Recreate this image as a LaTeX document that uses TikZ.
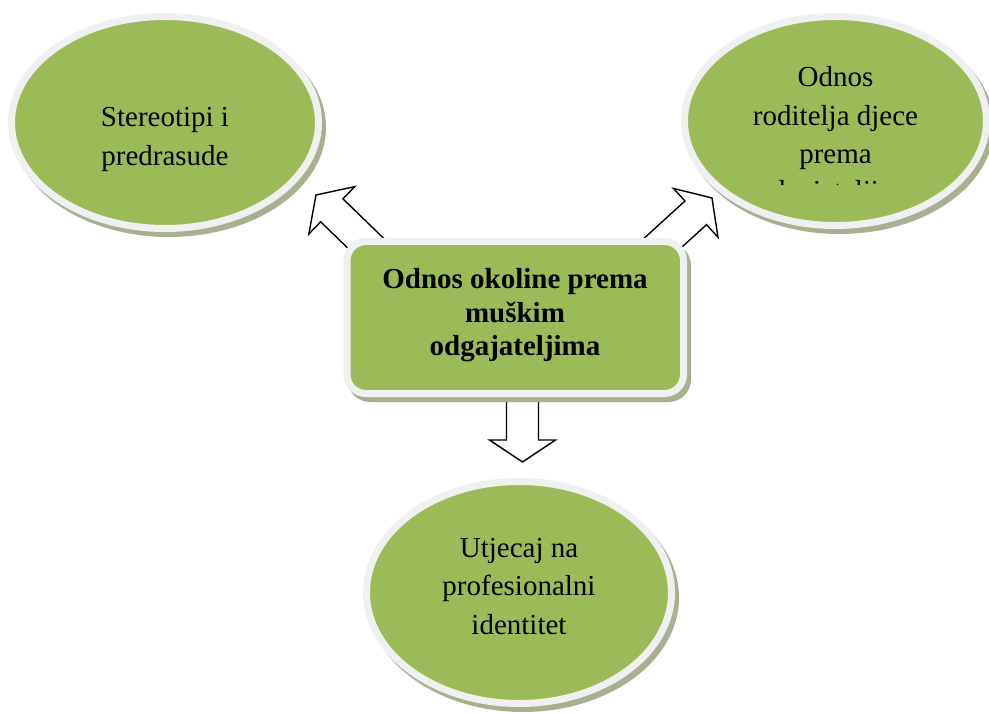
\documentclass[tikz,border=0pt]{standalone}
\usepackage{fontspec}
\setmainfont{Liberation Serif}
\usetikzlibrary{shapes.geometric,calc}

\definecolor{leaf}{HTML}{9BBB59}
\definecolor{rimgrey}{HTML}{F0F0F0}
\definecolor{shadowgrey}{HTML}{A7B191}

\tikzset{
  castshadow/.style={preaction={draw=shadowgrey, fill=shadowgrey,
      transform canvas={shift={(4pt,-5pt)}}}},
  bubble/.style={ellipse, castshadow, fill=leaf, draw=rimgrey, line width=7pt,
      inner sep=0pt, outer sep=0pt},
  hub/.style={rectangle, rounded corners=19pt, castshadow, fill=leaf, draw=rimgrey,
      line width=7pt, inner sep=0pt, outer sep=0pt},
  bubbletext/.style={anchor=base, inner sep=0pt, font=\fontsize{29}{38.5}\selectfont},
  hubtext/.style={anchor=base, inner sep=0pt, font=\fontsize{29}{33.5}\selectfont\bfseries},
  arrowbody/.style={draw=black, fill=white, line width=1.4pt, line join=miter}
}

% outlined block arrow from #1 (hidden under the central box) to the tip #2
\newcommand\blockarrow[2]{%
  \coordinate (#2base) at ($(#2)!22pt!(#1)$);
  \draw[arrowbody]
    ($(#1)!16pt!90:(#2)$) -- ($(#2base)!16pt!90:(#2)$)
    -- ($(#2base)!33pt!90:(#2)$) -- (#2)
    -- ($(#2base)!33pt!-90:(#2)$) -- ($(#2base)!16pt!-90:(#2)$)
    -- ($(#1)!16pt!-90:(#2)$) -- cycle;}

\begin{document}
\begin{tikzpicture}[x=1pt, y=-1pt]
\useasboundingbox (0,0) rectangle (989,714);
\fill[white] (0,0) rectangle (989,714);

% the three outer themes
\node[bubble, minimum width=307pt, minimum height=212pt] (stereo) at (165,122.5) {};
\node[bubble, minimum width=302pt, minimum height=209pt] (parents) at (835.5,121) {};
\node[bubble, minimum width=305pt, minimum height=222pt] (identity) at (519,592.5) {};

\node[bubbletext] (stereotext) at (165,127)
  {\begin{tabular}[t]{@{}c@{}}Stereotipi i\\ predrasude\end{tabular}};
\node[bubbletext] (parentstext) at (835.5,87)
  {\begin{tabular}[t]{@{}c@{}}Odnos\\ roditelja djece\\ prema\end{tabular}};
\begin{scope}
  \clip (680,150) rectangle (989,185);
  \node[bubbletext] (parentsmore) at (835.5,201) {odgajateljima};
\end{scope}
\node[bubbletext] (identitytext) at (519,557)
  {\begin{tabular}[t]{@{}c@{}}Utjecaj na\\ profesionalni\\ identitet\end{tabular}};

% arrows leaving the central box
\coordinate (leftfoot) at (382,259);
\coordinate (lefttip) at (316,195);
\coordinate (rightfoot) at (644,260);
\coordinate (righttip) at (712,198);
\coordinate (downfoot) at (522.5,380);
\coordinate (downtip) at (522.5,462);
\blockarrow{leftfoot}{lefttip}
\blockarrow{rightfoot}{righttip}
\blockarrow{downfoot}{downtip}

% central box
\node[hub, minimum width=336.5pt, minimum height=152pt] (centre) at (515.25,317.5) {};
\node[hubtext] (centretext) at (515,289)
  {\begin{tabular}[t]{@{}c@{}}Odnos okoline prema\\ muškim\\ odgajateljima\end{tabular}};
\end{tikzpicture}
\end{document}
